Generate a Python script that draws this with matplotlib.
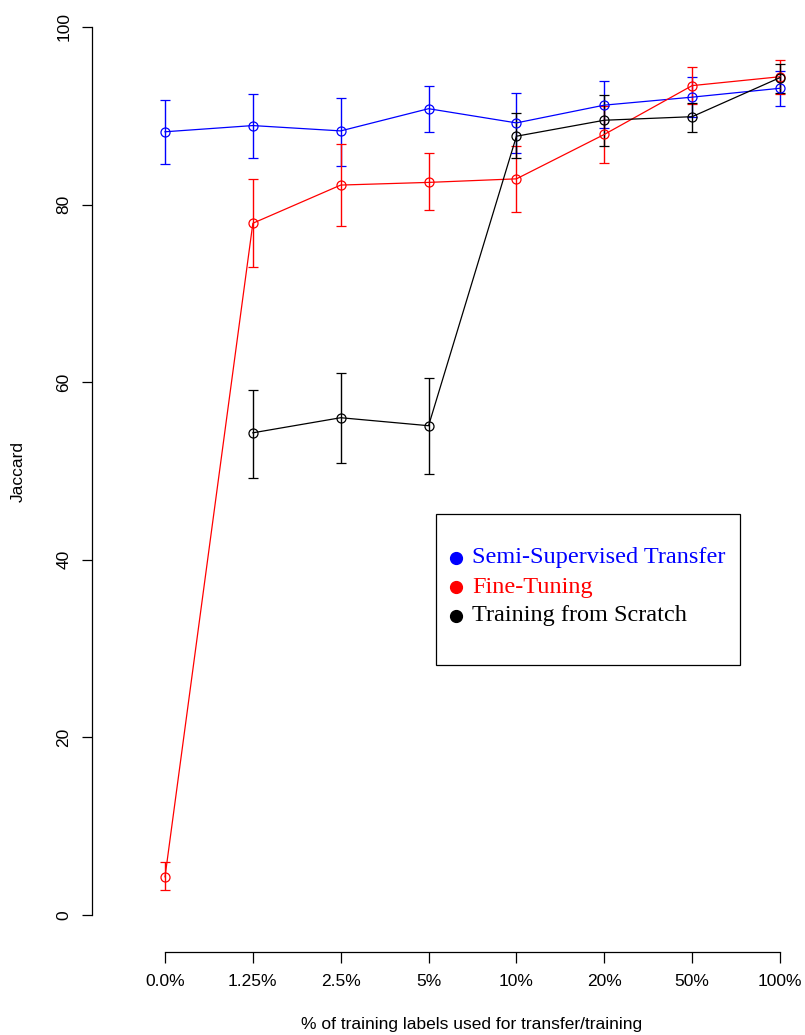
import numpy as np
import matplotlib
matplotlib.use("Agg")
import matplotlib.pyplot as plt
from matplotlib.lines import Line2D
from matplotlib.patches import Rectangle

# tick labels along x (categorical positions)
fractions = ["0.0%", "1.25%", "2.5%", "5%", "10%", "20%", "50%", "100%"]

# Semi-Supervised Transfer
semi_mean = [88.2, 88.9, 88.3, 90.8, 89.2, 91.2, 92.1, 93.1]
semi_lo = [84.6, 85.2, 84.4, 88.2, 85.8, 88.6, 89.9, 91.1]
semi_hi = [91.8, 92.5, 92.0, 93.4, 92.6, 93.9, 94.4, 95.1]

# Fine-Tuning
fine_mean = [4.3, 77.9, 82.2, 82.5, 82.9, 87.9, 93.4, 94.4]
fine_lo = [2.8, 73.0, 77.6, 79.4, 79.2, 84.7, 91.3, 92.5]
fine_hi = [6.0, 82.9, 86.8, 85.8, 86.6, 91.1, 95.5, 96.3]

# Training from Scratch (no value at 0%)
scratch_mean = [np.nan, 54.3, 56.0, 55.1, 87.7, 89.5, 89.9, 94.3]
scratch_lo = [np.nan, 49.2, 50.9, 49.7, 85.2, 86.6, 88.2, 92.6]
scratch_hi = [np.nan, 59.1, 61.0, 60.5, 90.3, 92.3, 91.4, 95.8]

series = [
    ("Semi-Supervised Transfer", "blue", semi_mean, semi_lo, semi_hi),
    ("Fine-Tuning", "red", fine_mean, fine_lo, fine_hi),
    ("Training from Scratch", "black", scratch_mean, scratch_lo, scratch_hi),
]

W, H = 805, 1035
fig = plt.figure(figsize=(W / 100, H / 100), dpi=100)

# plot region in pixels (R-style, axes drawn detached)
left, right, top, bottom = 140.4, 804.6, 10, 935
ax = fig.add_axes([left / W, 1 - bottom / H, (right - left) / W, (bottom - top) / H])

px_per_unit = 8.88
y0_px = 915
ax.set_xlim(-0.28, 7.28)
ax.set_ylim((y0_px - bottom) / px_per_unit, (y0_px - top) / px_per_unit)

sans = ["Liberation Sans Narrow", "Liberation Sans", "DejaVu Sans"]
x = np.arange(len(fractions))

for name, col, m, lo, hi in series:
    m = np.array(m, dtype=float)
    err = np.vstack([m - np.array(lo, dtype=float), np.array(hi, dtype=float) - m])
    ax.errorbar(x, m, yerr=err, color=col, lw=0.9, elinewidth=1.0,
                capsize=3.3, capthick=1.0, marker="o", ms=6.5,
                mfc="none", mec=col, mew=0.9)

for s in ["top", "right"]:
    ax.spines[s].set_visible(False)
ax.spines["left"].set_position(("outward", 48 * 0.72))
ax.spines["bottom"].set_position(("outward", 17 * 0.72))
ax.spines["left"].set_bounds(0, 100)
ax.spines["bottom"].set_bounds(0, 7)
for s in ["left", "bottom"]:
    ax.spines[s].set_linewidth(0.9)

ax.set_yticks([0, 20, 40, 60, 80, 100])
ax.set_yticklabels(["0", "20", "40", "60", "80", "100"], rotation=90,
                   va="center", family=sans, fontsize=12.5)
ax.set_xticks(x)
ax.set_xticklabels(fractions, family=sans, fontsize=12.5)
ax.tick_params(axis="y", length=7.2, width=0.9, pad=8)
ax.tick_params(axis="x", length=7.9, width=0.9, pad=8)

fig.text(472 / W, 1 - 1024 / H, "% of training labels used for transfer/training",
         ha="center", va="center", family=sans, fontsize=12.5)
fig.text(18 / W, 1 - 471 / H, "Jaccard", rotation=90, ha="center", va="center",
         family=sans, fontsize=12.5)

# legend box like R's legend()
fig.patches.append(Rectangle((436 / W, 1 - 665 / H), 304 / W, 151 / H,
                             transform=fig.transFigure, fill=False,
                             edgecolor="black", lw=0.9))
rows = [558, 587, 616]
for (name, col, *_), ry in zip(series, rows):
    fig.add_artist(Line2D([456 / W], [1 - ry / H], transform=fig.transFigure,
                          marker="o", ms=8.5, color=col, ls="none"))
    fig.text(472 / W, 1 - ry / H, name, color=col, ha="left", va="center",
             family=["Liberation Serif", "DejaVu Serif"], fontsize=17.5)

fig.savefig("out.png", dpi=100)
